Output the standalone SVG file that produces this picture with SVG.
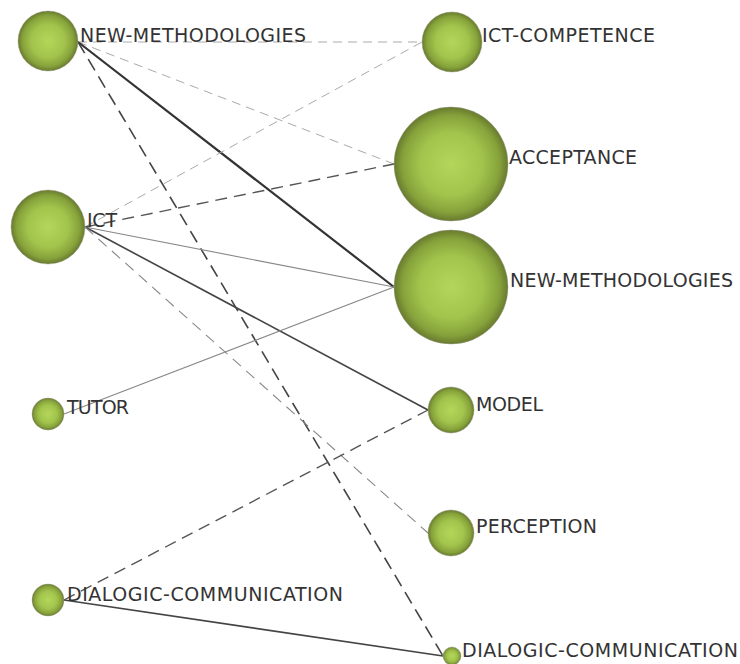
<svg xmlns="http://www.w3.org/2000/svg" width="740" height="664" viewBox="0 0 740 664">
<defs>
<radialGradient id="ball" cx="50%" cy="50%" r="50%">
<stop offset="0" stop-color="#b3d65a"/>
<stop offset="0.55" stop-color="#a2c44c"/>
<stop offset="0.85" stop-color="#86a23b"/>
<stop offset="1" stop-color="#687a2e"/>
</radialGradient>
</defs>
<style>
.node{fill:url(#ball);stroke:#9a9a8a;stroke-opacity:0.45;stroke-width:1}
.lbl{font-family:"DejaVu Sans","Verdana",sans-serif;font-size:19px;fill:#333}
.e{fill:none;stroke-linecap:butt}
.lightdash{stroke:#aaa;stroke-width:1;stroke-dasharray:9 6}
.darkdash{stroke:#444;stroke-width:1.6;stroke-dasharray:13 7}
.middash{stroke:#555;stroke-width:1.4;stroke-dasharray:12 7}
.greydash{stroke:#888;stroke-width:1.1;stroke-dasharray:11 7}
.thick{stroke:#333;stroke-width:2.2}
.dark{stroke:#444;stroke-width:1.6}
.thin{stroke:#888;stroke-width:1.1}
</style>
<g id="connectors">
<line class="e lightdash" x1="78" y1="42" x2="422" y2="42"/>
<line class="e lightdash" x1="78" y1="42" x2="394" y2="164"/>
<line class="e thick" x1="78" y1="42" x2="394" y2="287"/>
<line class="e darkdash" x1="78" y1="42" x2="443" y2="656"/>
<line class="e lightdash" x1="85" y1="227" x2="422" y2="42"/>
<line class="e middash" x1="85" y1="227" x2="394" y2="164"/>
<line class="e thin" x1="85" y1="227" x2="394" y2="287"/>
<line class="e dark" x1="85" y1="227" x2="428" y2="410"/>
<line class="e greydash" x1="85" y1="227" x2="428" y2="533"/>
<line class="e thin" x1="64" y1="414" x2="394" y2="287"/>
<line class="e middash" x1="64" y1="600" x2="428" y2="410"/>
<line class="e dark" x1="64" y1="600" x2="443" y2="656"/>
</g>
<g id="n-newmeth-left"><circle class="node" cx="48" cy="41" r="30"/><text class="lbl" x="80" y="42" textLength="226">NEW-METHODOLOGIES</text></g>
<g id="n-ict"><circle class="node" cx="48" cy="227" r="37"/><text class="lbl" x="87" y="227" textLength="30">ICT</text></g>
<g id="n-tutor"><circle class="node" cx="48" cy="414" r="16"/><text class="lbl" x="67" y="414" textLength="62">TUTOR</text></g>
<g id="n-dialogic-left"><circle class="node" cx="48" cy="600" r="16"/><text class="lbl" x="67" y="601" textLength="276">DIALOGIC-COMMUNICATION</text></g>
<g id="n-ict-competence"><circle class="node" cx="452" cy="42" r="30"/><text class="lbl" x="482" y="42" textLength="173">ICT-COMPETENCE</text></g>
<g id="n-acceptance"><circle class="node" cx="451" cy="164" r="57"/><text class="lbl" x="509" y="164" textLength="128">ACCEPTANCE</text></g>
<g id="n-newmeth-right"><circle class="node" cx="451" cy="287" r="57"/><text class="lbl" x="510" y="287" textLength="223">NEW-METHODOLOGIES</text></g>
<g id="n-model"><circle class="node" cx="451" cy="410" r="23"/><text class="lbl" x="476" y="411" textLength="67">MODEL</text></g>
<g id="n-perception"><circle class="node" cx="451" cy="533" r="23"/><text class="lbl" x="476" y="533" textLength="121">PERCEPTION</text></g>
<g id="n-dialogic-right"><circle class="node" cx="452" cy="656" r="9"/><text class="lbl" x="462" y="657" textLength="276">DIALOGIC-COMMUNICATION</text></g>
</svg>
